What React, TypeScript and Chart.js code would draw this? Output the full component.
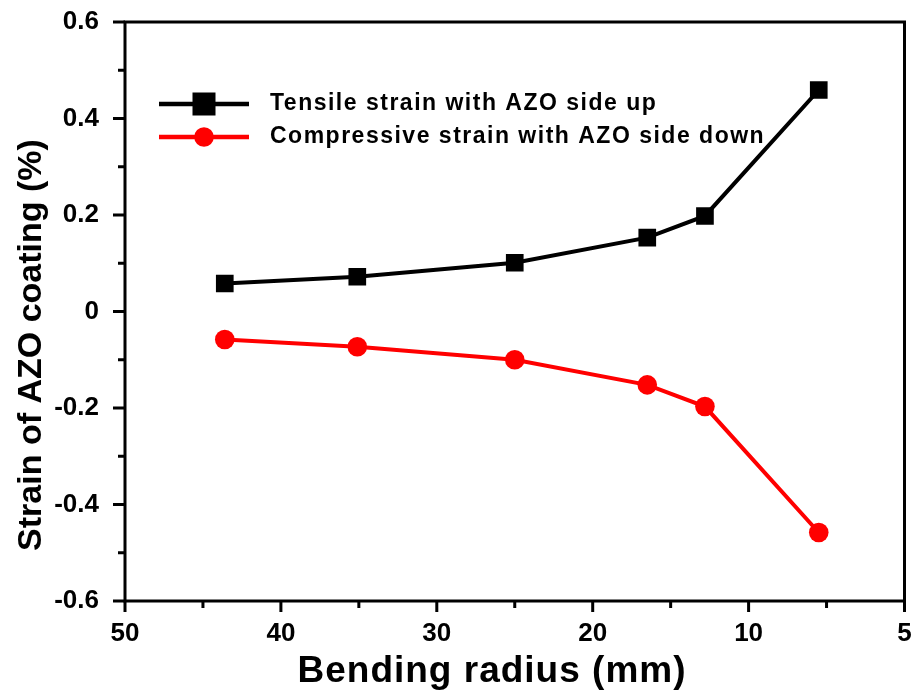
import React, { useEffect, useRef } from "react";
import { Chart, registerables } from "chart.js";

Chart.register(...registerables);

const bendingRadius = [43.6, 35.1, 25.0, 16.5, 12.8, 5.5];
const tensileStrain = [0.058, 0.072, 0.101, 0.153, 0.198, 0.459];
const compressiveStrain = [-0.058, -0.073, -0.1, -0.152, -0.197, -0.458];
const seriesLabels = ["Tensile strain with AZO side up", "Compressive strain with AZO side down"];
const xTickValues = [0, 10, 20, 30, 40, 50];
const xTickLabels = ["5", "10", "20", "30", "40", "50"];
const xMinorTicks = [5, 15, 25, 35, 45];
const yTickValues = [-0.6, -0.4, -0.2, 0, 0.2, 0.4, 0.6];
const yTickLabels = ["-0.6", "-0.4", "-0.2", "0", "0.2", "0.4", "0.6"];
const yMinorTicks = [-0.5, -0.3, -0.1, 0.1, 0.3, 0.5];
const xTitle = "Bending radius (mm)";
const yTitle = "Strain of AZO coating (%)";

const FONT = '"Liberation Sans", Arial, sans-serif';

const framePlugin = {
  id: "frameTicks",
  afterDraw(chart: any) {
    const { ctx, chartArea } = chart;
    const { left, right, top, bottom } = chartArea;
    const xs = chart.scales.x;
    const ys = chart.scales.y;
    ctx.save();
    ctx.strokeStyle = "#000";
    ctx.lineWidth = 3;
    ctx.strokeRect(left, top, right - left, bottom - top);
    ctx.beginPath();
    xTickValues.forEach((v) => {
      const p = xs.getPixelForValue(v);
      ctx.moveTo(p, bottom);
      ctx.lineTo(p, bottom + 11);
    });
    xMinorTicks.forEach((v) => {
      const p = xs.getPixelForValue(v);
      ctx.moveTo(p, bottom);
      ctx.lineTo(p, bottom + 7);
    });
    yTickValues.forEach((v) => {
      const p = ys.getPixelForValue(v);
      ctx.moveTo(left, p);
      ctx.lineTo(left - 12, p);
    });
    yMinorTicks.forEach((v) => {
      const p = ys.getPixelForValue(v);
      ctx.moveTo(left, p);
      ctx.lineTo(left - 7, p);
    });
    ctx.stroke();
    ctx.restore();
  },
};

const legendPlugin = {
  id: "innerLegend",
  afterDraw(chart: any) {
    const { ctx } = chart;
    const rows = [104, 137];
    const x0 = 159;
    const x1 = 249;
    const mx = 204;
    const tx = 270;
    ctx.save();
    chart.data.datasets.forEach((ds: any, i: number) => {
      const y = rows[i];
      ctx.strokeStyle = ds.borderColor;
      ctx.fillStyle = ds.backgroundColor;
      ctx.lineWidth = 4.5;
      ctx.beginPath();
      ctx.moveTo(x0, y);
      ctx.lineTo(x1, y);
      ctx.stroke();
      if (ds.pointStyle === "rect") {
        ctx.fillRect(mx - 11.5, y - 11.5, 23, 23);
      } else {
        ctx.beginPath();
        ctx.arc(mx, y, 9.8, 0, Math.PI * 2);
        ctx.fill();
      }
      ctx.fillStyle = "#000";
      ctx.font = `bold 23px ${FONT}`;
      (ctx as any).letterSpacing = "1.5px";
      ctx.textAlign = "left";
      ctx.textBaseline = "alphabetic";
      ctx.fillText(ds.label, tx, y + 6);
      (ctx as any).letterSpacing = "0px";
    });
    ctx.restore();
  },
};

const titlePlugin = {
  id: "axisTitles",
  afterDraw(chart: any) {
    const { ctx } = chart;
    ctx.save();
    ctx.fillStyle = "#000";
    ctx.textAlign = "center";
    ctx.textBaseline = "alphabetic";
    ctx.font = `bold 37px ${FONT}`;
    (ctx as any).letterSpacing = "1px";
    ctx.fillText(xTitle, 492, 682);
    ctx.font = `bold 34px ${FONT}`;
    (ctx as any).letterSpacing = "0px";
    ctx.translate(41, 345);
    ctx.rotate(-Math.PI / 2);
    ctx.fillText(yTitle, 0, 0);
    ctx.restore();
  },
};

export default function App() {
  const ref = useRef<HTMLCanvasElement>(null);
  useEffect(() => {
    document.body.style.margin = "0";
    const canvas = ref.current!;
    const chart = new Chart(canvas, {
      type: "line",
      data: {
        datasets: [
          {
            label: seriesLabels[0],
            data: bendingRadius.map((x, i) => ({ x, y: tensileStrain[i] })),
            borderColor: "#000000",
            backgroundColor: "#000000",
            borderWidth: 4,
            pointStyle: "rect",
            pointRadius: 12.5,
            pointBorderWidth: 0,
            tension: 0,
          },
          {
            label: seriesLabels[1],
            data: bendingRadius.map((x, i) => ({ x, y: compressiveStrain[i] })),
            borderColor: "#ff0000",
            backgroundColor: "#ff0000",
            borderWidth: 4,
            pointStyle: "circle",
            pointRadius: 9.8,
            pointBorderWidth: 0,
            tension: 0,
          },
        ],
      },
      options: {
        responsive: false,
        animation: false,
        layout: { padding: { top: 22, right: 9, left: 0, bottom: 0 } },
        plugins: { legend: { display: false }, tooltip: { enabled: false } },
        scales: {
          x: {
            type: "linear",
            min: 0,
            max: 50,
            reverse: true,
            grid: { display: false, drawTicks: false },
            border: { display: false },
            afterBuildTicks: (s: any) => {
              s.ticks = xTickValues.map((v) => ({ value: v }));
            },
            afterFit: (s: any) => {
              s.height = 93;
              s.paddingLeft = 0;
              s.paddingRight = 0;
              s.paddingTop = 0;
              s.paddingBottom = 0;
            },
            ticks: {
              autoSkip: false,
              maxRotation: 0,
              padding: 17,
              color: "#000",
              font: { family: FONT, size: 26, weight: "bold" },
              callback: (v: any) => {
                const i = xTickValues.indexOf(v);
                return i >= 0 ? xTickLabels[i] : "";
              },
            },
          },
          y: {
            type: "linear",
            min: -0.6,
            max: 0.6,
            grid: { display: false, drawTicks: false },
            border: { display: false },
            afterBuildTicks: (s: any) => {
              s.ticks = yTickValues.map((v) => ({ value: v }));
            },
            afterFit: (s: any) => {
              s.width = 125;
              s.paddingLeft = 0;
              s.paddingRight = 0;
              s.paddingTop = 0;
              s.paddingBottom = 0;
            },
            ticks: {
              autoSkip: false,
              padding: 26,
              color: "#000",
              font: { family: FONT, size: 26, weight: "bold" },
              callback: (v: any) => {
                const i = yTickValues.indexOf(v);
                return i >= 0 ? yTickLabels[i] : "";
              },
            },
          },
        },
      },
      plugins: [framePlugin, legendPlugin, titlePlugin],
    } as any);
    return () => chart.destroy();
  }, []);
  return (
    <div style={{ width: 917, height: 694 }}>
      <canvas ref={ref} width={917} height={694} />
    </div>
  );
}
